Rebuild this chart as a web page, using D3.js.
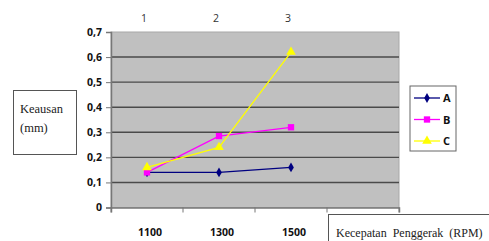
<!DOCTYPE html>
<html>
<head>
<meta charset="utf-8">
<script src="https://cdn.jsdelivr.net/npm/d3@7"></script>
<style>
  body { margin: 0; background: #fff; }
  svg { display: block; }
</style>
</head>
<body>
<svg id="chart" width="489" height="241"></svg>
<script>
// data
var categories = ["1100", "1300", "1500", ""];
var topLabels = ["1", "2", "3"];
var seriesNames = ["A", "B", "C"];
var valuesA = [0.14, 0.14, 0.16];
var valuesB = [0.14, 0.285, 0.32];
var valuesC = [0.16, 0.24, 0.62];
var yTicks = [0, 0.1, 0.2, 0.3, 0.4, 0.5, 0.6, 0.7];

window.onload = function(){
    drawChart();
};

function drawChart(){
    let svg = d3.select("#chart");
    let left = 111, right = 399, top = 32, bottom = 207.5;

    let xScale = d3.scaleBand().domain(categories).range([left, right]);
    let yScale = d3.scaleLinear().domain([0, 0.7]).range([bottom, top]);

    // plot area
    svg.append("rect")
        .attr("x", left).attr("y", top)
        .attr("width", right - left).attr("height", bottom - top)
        .attr("fill", "#c0c0c0")
        .attr("stroke", "#a8a8a8").attr("stroke-width", 1);

    // gridlines
    svg.selectAll("line.grid").data(yTicks.slice(1, -1))
        .enter().append("line")
        .attr("class", "grid")
        .attr("x1", left).attr("x2", right)
        .attr("y1", d => yScale(d)).attr("y2", d => yScale(d))
        .attr("stroke", "#4a4a4a").attr("stroke-width", 1.4);

    // y axis
    let yAxis = d3.axisLeft(yScale).tickValues(yTicks).tickSize(5)
        .tickFormat(d => d === 0 ? "0" : d3.format(".1f")(d).replace(".", ","));
    let gy = svg.append("g").attr("transform", "translate(" + left + ",0)").call(yAxis);
    gy.select(".domain").attr("stroke", "#777").attr("stroke-width", 1.5);
    gy.selectAll(".tick line").attr("stroke", "#777");
    gy.selectAll("text")
        .attr("x", -9)
        .attr("font-family", "Open Sans, sans-serif")
        .attr("font-weight", "bold").attr("font-size", 10.5).attr("fill", "#111");

    // x axis
    let xAxis = d3.axisBottom(xScale).tickSize(5).tickSizeOuter(5).tickFormat("");
    let gx = svg.append("g").attr("transform", "translate(0," + bottom + ")").call(xAxis);
    gx.select(".domain").attr("stroke", "#777").attr("stroke-width", 1.5);
    gx.selectAll(".tick line")
        .attr("transform", "translate(" + (-xScale.bandwidth() / 2) + ",0)")
        .attr("stroke", "#777");
    // extra boundary tick at right end
    gx.append("line").attr("x1", right).attr("x2", right).attr("y1", 0).attr("y2", 5).attr("stroke", "#777");

    // bottom category labels
    svg.selectAll("text.cat").data(categories.filter(c => c !== ""))
        .enter().append("text")
        .attr("class", "cat")
        .attr("x", d => xScale(d) + xScale.bandwidth() / 2 + 3)
        .attr("y", 236)
        .attr("text-anchor", "middle")
        .attr("font-family", "Open Sans, sans-serif")
        .attr("font-weight", "bold").attr("font-size", 10.5).attr("fill", "#111")
        .text(d => d);

    // top index labels
    svg.selectAll("text.top").data(topLabels)
        .enter().append("text")
        .attr("class", "top")
        .attr("x", (d, i) => xScale(categories[i]) + xScale.bandwidth() / 2 - 3)
        .attr("y", 22)
        .attr("text-anchor", "middle")
        .attr("font-family", "Open Sans, sans-serif")
        .attr("font-size", 10.5).attr("fill", "#333")
        .text(d => d);

    // series
    let series = [
        {name: "A", values: valuesA, color: "#000080", shape: d3.symbolDiamond, size: 28},
        {name: "B", values: valuesB, color: "#ff00ff", shape: d3.symbolSquare, size: 40},
        {name: "C", values: valuesC, color: "#ffff00", shape: d3.symbolTriangle, size: 40}
    ];
    let line = d3.line()
        .x((d, i) => xScale(categories[i]) + xScale.bandwidth() / 2)
        .y(d => yScale(d));

    series.forEach(function(s){
        svg.append("path").datum(s.values)
            .attr("d", line)
            .attr("fill", "none")
            .attr("stroke", s.color).attr("stroke-width", 1.3);
    });
    series.forEach(function(s){
        svg.selectAll("path.m" + s.name).data(s.values)
            .enter().append("path")
            .attr("class", "m" + s.name)
            .attr("d", d3.symbol().type(s.shape).size(s.size))
            .attr("transform", (d, i) => "translate(" + (xScale(categories[i]) + xScale.bandwidth() / 2) + "," + yScale(d) + ")")
            .attr("fill", s.color);
    });

    // legend
    let lg = svg.append("g");
    lg.append("rect").attr("x", 410).attr("y", 86).attr("width", 46).attr("height", 65)
        .attr("fill", "#fff").attr("stroke", "#666").attr("stroke-width", 1);
    series.forEach(function(s, i){
        let y = 98 + i * 21.5;
        lg.append("line").attr("x1", 414).attr("x2", 440).attr("y1", y).attr("y2", y)
            .attr("stroke", s.color).attr("stroke-width", 1.3);
        lg.append("path")
            .attr("d", d3.symbol().type(s.shape).size(s.size))
            .attr("transform", "translate(427," + y + ")")
            .attr("fill", s.color);
        lg.append("text").attr("x", 443).attr("y", y + 4)
            .attr("font-family", "Open Sans, sans-serif")
            .attr("font-weight", "bold").attr("font-size", 11).attr("fill", "#111")
            .text(s.name);
    });

    // y title box
    svg.append("rect").attr("x", 13.5).attr("y", 90.5).attr("width", 63).attr("height", 64)
        .attr("fill", "#fff").attr("stroke", "#555");
    svg.append("text").attr("x", 20).attr("y", 113)
        .attr("font-family", "Liberation Serif, serif").attr("font-size", 12.5).attr("fill", "#222")
        .text("Keausan");
    svg.append("text").attr("x", 20).attr("y", 132)
        .attr("font-family", "Liberation Serif, serif").attr("font-size", 12.5).attr("fill", "#222")
        .text("(mm)");

    // x title box
    svg.append("rect").attr("x", 328.5).attr("y", 214.5).attr("width", 170).attr("height", 40)
        .attr("fill", "#fff").attr("stroke", "#555");
    svg.append("text").attr("x", 336).attr("y", 237)
        .attr("font-family", "Liberation Serif, serif").attr("font-size", 12).attr("fill", "#222")
        .attr("word-spacing", 3)
        .text("Kecepatan Penggerak (RPM)");
}
</script>
</body>
</html>
